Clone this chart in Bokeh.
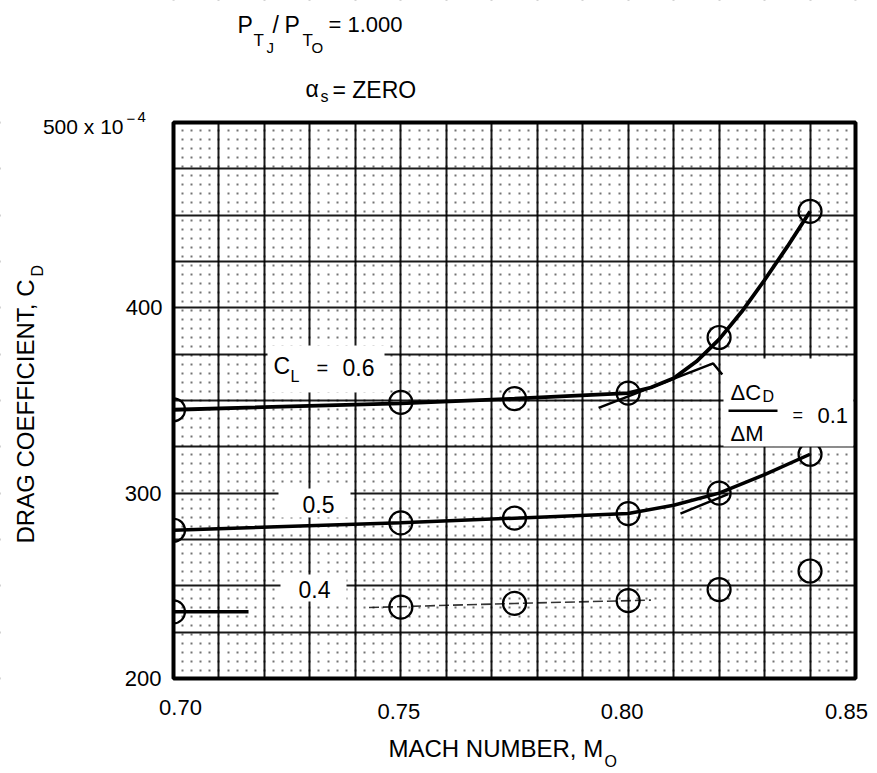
import math
from bokeh.plotting import figure
from bokeh.models import Label, BoxAnnotation, FixedTicker
from bokeh.embed import file_html
from bokeh.resources import INLINE

# ---------------- data ----------------
MACH = [0.70, 0.75, 0.775, 0.80, 0.82, 0.84]
CD_CL06 = [345, 349, 351, 354, 384, 452]
CD_CL05 = [280, 284, 286.5, 289, 300, 321]
CD_CL04 = [236, 238.5, 240.5, 242, 248, 258]

# faired curves
FAIR06_M = [0.70, 0.75, 0.775, 0.80, 0.805, 0.81, 0.815, 0.82, 0.825, 0.83, 0.835, 0.84]
FAIR06_CD = [345, 348.5, 351, 354, 357, 362, 371, 383, 398, 415, 433, 452]
FAIR05_M = [0.70, 0.75, 0.775, 0.80, 0.81, 0.82, 0.83, 0.84]
FAIR05_CD = [280, 284, 286.5, 289, 293.5, 300, 310, 321]
FAIR04_M = [0.70, 0.7165]
FAIR04_CD = [236, 236]
FAINT04_M = [0.743, 0.775, 0.805]
FAINT04_CD = [238.3, 240.5, 242.3]

# dCD/dM = 0.1 tangent strokes
TAN06_M = [0.7935, 0.8187, 0.8207]
TAN06_CD = [346, 370, 364]
TAN05_M = [0.8115, 0.822]
TAN05_CD = [289, 299.5]

X_TICKS = [0.70, 0.75, 0.80, 0.85]
X_TICK_LABELS = ["0.70", "0.75", "0.80", "0.85"]
Y_TICKS = [200, 300, 400]
Y_TICK_LABELS = ["200", "300", "400"]

FONT = "Liberation Sans"

# ---------------- layout ----------------
W, H = 870, 770
XPX = 682 / 0.15          # px per Mach unit
YPX = 556 / 300           # px per CD unit
FL, FR, FT, FB = 173, 855, 122, 678   # plot box in page pixels

X0 = 0.70 - FL / XPX
X1 = 0.85 + (W - FR) / XPX
Y0 = 200 - (H - FB) / YPX
Y1 = 500 + FT / YPX

p = figure(width=W, height=H, x_range=(X0, X1), y_range=(Y0, Y1),
           output_backend="svg", toolbar_location=None, tools="")
p.min_border = 0
p.min_border_left = 0
p.min_border_right = 0
p.min_border_top = 0
p.min_border_bottom = 0
p.background_fill_color = "white"
p.border_fill_color = "white"
p.outline_line_color = None
p.xaxis.visible = False
p.yaxis.visible = False

xmaj = [round(0.70 + 0.01 * i, 3) for i in range(16)]
xmin = [round(0.70 + 0.002 * i, 4) for i in range(76)]
ymaj = [200 + 25 * i for i in range(13)]
p.xgrid.ticker = FixedTicker(ticks=xmaj, minor_ticks=xmin)
p.ygrid.ticker = FixedTicker(ticks=ymaj)
for g in (p.xgrid, p.ygrid):
    g.grid_line_color = "black"
    g.grid_line_width = 2
    g.grid_line_alpha = 0.9
p.xgrid.minor_grid_line_color = "black"
p.xgrid.minor_grid_line_width = 2
p.xgrid.minor_grid_line_alpha = 0.55
p.xgrid.minor_grid_line_dash = "2 7"


def X(px):
    return 0.70 + (px - FL) / XPX


def Y(py):
    return 200 + (FB - py) / YPX


def wbox(l, r, b, t):
    p.add_layout(BoxAnnotation(left=l, right=r, bottom=b, top=t,
                               fill_color="white", fill_alpha=1.0,
                               line_color=None, line_alpha=0.0, level="glyph"))


def lab(text, px, py, size, align="left", angle=0.0):
    """px: left (or aligned) edge, py: vertical centre of the glyphs, page pixels."""
    p.add_layout(Label(x=X(px), y=Y(py), text=text, text_font=FONT,
                       text_font_size=f"{size}px", text_align=align,
                       text_baseline="middle", angle=angle, text_color="black"))


# hide the grid outside the plot box
wbox(X0, 0.70, Y0, Y1)
wbox(0.85, X1, Y0, Y1)
wbox(X0, X1, 500, Y1)
wbox(X0, X1, Y0, 200)
# white erased areas behind in-plot labels
for (l, r, t, b) in [(267, 384, 345, 392), (278, 350, 488, 517),
                     (280, 346, 574, 601), (723, 853, 358, 446)]:
    wbox(X(l), X(r), Y(b), Y(t))
# plot border
p.add_layout(BoxAnnotation(left=0.70, right=0.85, bottom=200, top=500,
                           fill_alpha=0.0, line_color="black", line_alpha=1.0,
                           line_width=4, level="glyph"))

# ---------------- curves ----------------
p.line(FAIR06_M, FAIR06_CD, line_color="black", line_width=3.8)
p.line(FAIR05_M, FAIR05_CD, line_color="black", line_width=3.5)
p.line(FAIR04_M, FAIR04_CD, line_color="black", line_width=3.5)
p.line(FAINT04_M, FAINT04_CD, line_color="black", line_width=1.6,
       line_dash="10 4", line_alpha=0.8)
p.line(TAN06_M, TAN06_CD, line_color="black", line_width=2.5)
p.line(TAN05_M, TAN05_CD, line_color="black", line_width=2.5)

for cd in (CD_CL06, CD_CL05, CD_CL04):
    p.scatter(MACH, cd, marker="circle", size=23, fill_color=None,
              line_color="black", line_width=2.2)

# ---------------- texts (page pixel positions, vertical centres) ----------------
# title block
lab("P", 237, 24, 23)
lab("T", 253, 40, 17)
lab("J", 266, 46.5, 15)
lab("/", 272, 24, 23)
lab("P", 284, 24, 23)
lab("T", 302, 40, 17)
lab("O", 311, 47, 15)
lab("= 1.000", 328, 24, 22)
lab("\u03b1", 305, 88, 23)
lab("s", 320, 96, 16)
lab("= ZERO", 332, 89, 23)

# y tick labels
for t, s, px in zip(Y_TICKS, Y_TICK_LABELS, [161, 161, 162]):
    p.add_layout(Label(x=X(px), y=t, text=s, text_font=FONT, text_font_size="22px",
                       text_align="right", text_baseline="middle", text_color="black"))
lab("500 x 10", 123, 125.5, 21, align="right")
lab("\u2212", 126, 118, 15)
lab("4", 137, 116, 15)

# x tick labels
for t, s, dx, cy in zip(X_TICKS, X_TICK_LABELS, [7, -2, -6, -9], [706.5, 711, 711, 711]):
    p.add_layout(Label(x=t + dx / XPX, y=Y(cy), text=s, text_font=FONT,
                       text_font_size="22px", text_align="center",
                       text_baseline="middle", text_color="black"))

# axis titles
lab("MACH NUMBER, M", 388, 748, 24)
lab("O", 604, 761, 16)
lab("DRAG COEFFICIENT, C", 25, 543, 24, angle=math.pi / 2)
lab("D", 37, 276, 16, angle=math.pi / 2)

# curve labels
lab("C", 273, 365, 23)
lab("L", 290, 375.5, 16)
lab("=", 316, 367.5, 20)
lab("0.6", 342, 366.5, 23)
lab("0.5", 302, 503.5, 23)
lab("0.4", 298, 588.5, 23)

# dCD/dM = 0.1
lab("\u0394C", 730, 391.5, 22)
lab("D", 762, 396, 16)
p.add_layout(BoxAnnotation(left=X(728), right=X(777), top=Y(409), bottom=Y(411.5),
                           fill_color="black", fill_alpha=1.0, line_color=None))
lab("\u0394M", 730, 432.5, 22)
lab("=", 792, 414, 18)
lab("0.1", 817, 414.5, 22)

open("out.html", "w").write(file_html(p, INLINE))
